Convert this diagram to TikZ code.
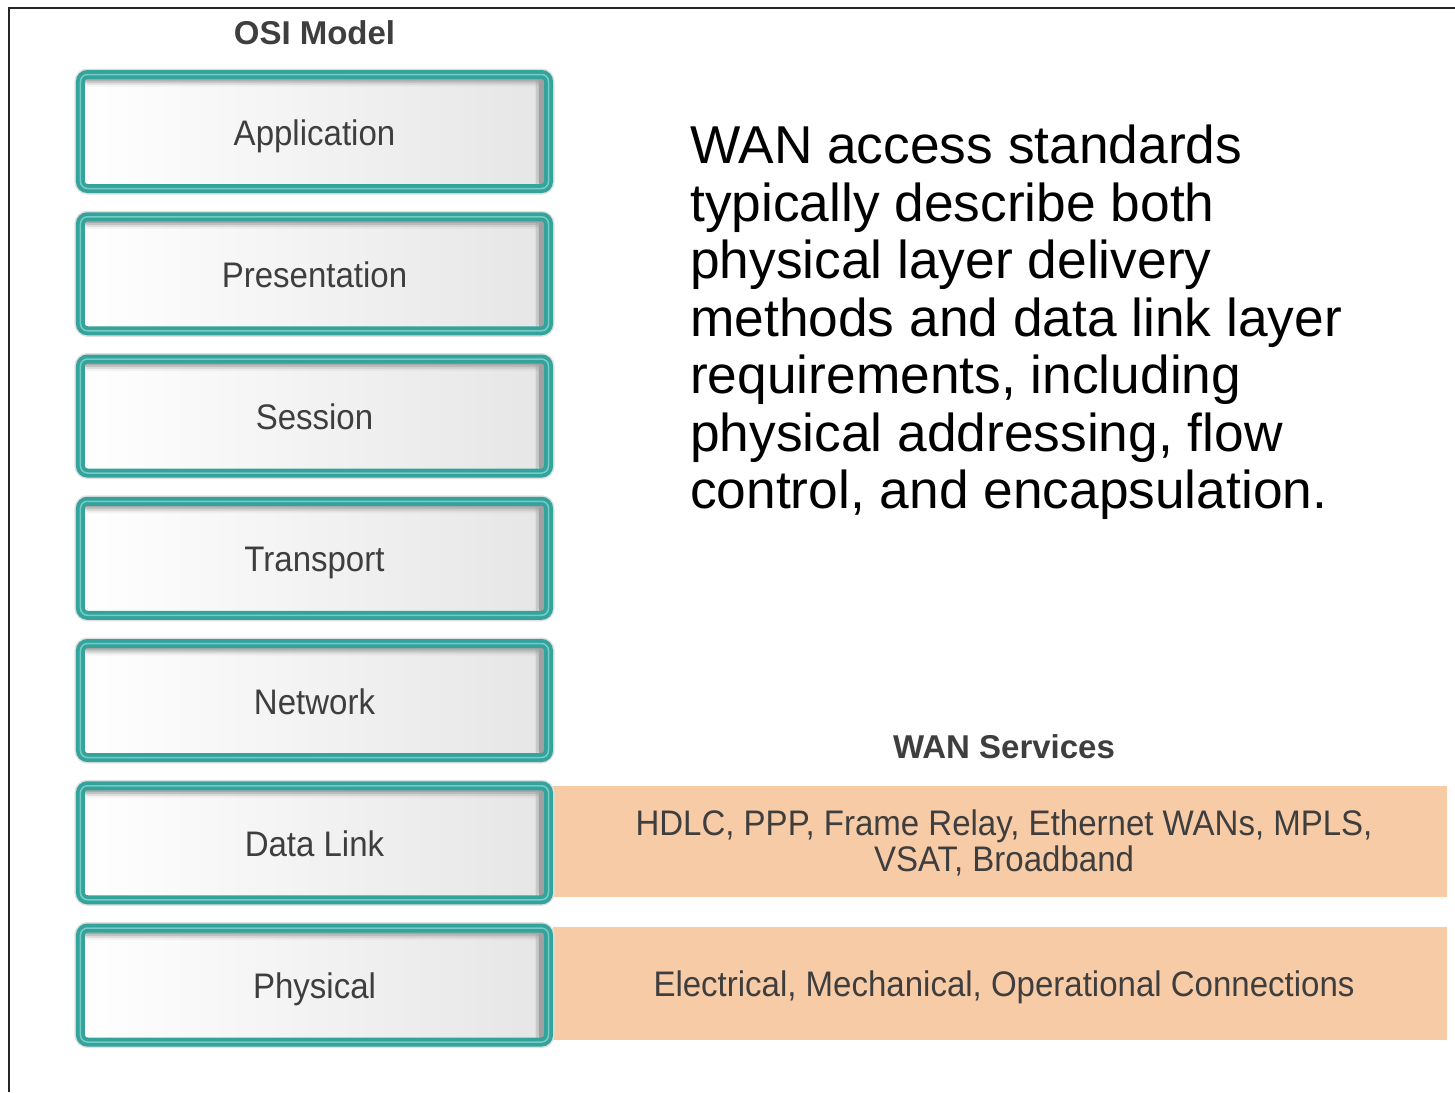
\documentclass[tikz,border=0pt]{standalone}
\usepackage{fontspec}
\setmainfont{Liberation Sans}
\newfontfamily\graylabel[FakeStretch=0.93]{Liberation Sans}
\definecolor{tealring}{HTML}{34A39C}
\definecolor{tealshine}{HTML}{74CCC4}
\definecolor{peach}{HTML}{F8CBA7}
\definecolor{labelgray}{HTML}{3E3E3E}
\definecolor{innershadow}{HTML}{A0A0A0}
\tikzset{
  layerbox/.style={
    minimum width=468bp, minimum height=114bp, inner sep=0pt,
    text height=30bp, text depth=3bp,
    rounded corners=7bp, draw=tealring, line width=9bp,
    left color=white, right color=black!10,
    preaction={draw=black!12, line width=12bp},
    path picture={
      % right inner shadow
      \fill[innershadow] ([xshift=-10bp]path picture bounding box.north east)
        rectangle (path picture bounding box.south east);
      \fill[innershadow, opacity=.4] ([xshift=-13bp]path picture bounding box.north east)
        rectangle ([xshift=-10bp]path picture bounding box.south east);
      % top inner shadow, fading downwards
      \foreach \d/\o in {6/.7, 8/.45, 10/.25, 12/.1}{
        \fill[innershadow, opacity=\o] (path picture bounding box.north west)
          rectangle ([yshift=-\d bp]path picture bounding box.north east);
      }
    },
    postaction={draw=tealshine, line width=1.5bp},
    font=\graylabel\fontsize{35.5bp}{36bp}\selectfont, text=labelgray},
  band/.style={fill=peach, draw=none, inner sep=0pt},
  bandtext/.style={font=\graylabel\fontsize{35.5bp}{36bp}\selectfont, text=labelgray, align=center, inner sep=0pt},
  heading/.style={font=\fontsize{33bp}{36bp}\selectfont\bfseries, text=labelgray, inner sep=0pt},
}
\begin{document}
\begin{tikzpicture}[x=1bp, y=-1bp]
  \useasboundingbox (0,0) rectangle (1455,1092);
  % frame
  \draw[line width=2bp, black!85] (9,1092) -- (9,8) -- (1455,8);

  % WAN service bands
  \node[band, minimum width=894bp, minimum height=111bp] (dlband) at (1000,841.5) {};
  \node[band, minimum width=894bp, minimum height=113bp] (phband) at (1000,983.5) {};

  % OSI layers
  \node[heading] (osi) at (314.5,33) {OSI Model};
  \node[layerbox] (app)  at (314.5,131.5)  {Application};
  \node[layerbox] (pres) at (314.5,273.75) {Presentation};
  \node[layerbox] (sess) at (314.5,416)    {Session};
  \node[layerbox] (tran) at (314.5,558.25) {Transport};
  \node[layerbox] (net)  at (314.5,700.5)  {Network};
  \node[layerbox] (dl)   at (314.5,842.75) {Data Link};
  \node[layerbox] (phy)  at (314.5,985)    {Physical};

  % WAN services
  \node[heading] (wan) at (1004,747) {WAN Services};
  \node[bandtext] (dltext) at (1004,843) {HDLC, PPP, Frame Relay, Ethernet WANs, MPLS,\\VSAT, Broadband};
  \node[bandtext, anchor=base] (phtext) at (1004,996) {Electrical, Mechanical, Operational Connections};

  % description
  \node[anchor=north west, inner sep=0pt, align=left,
        font=\fontsize{53.3bp}{57.5bp}\selectfont] (note) at (690,125)
    {WAN access standards\\
     typically describe both\\
     physical layer delivery\\
     methods and data link layer\\
     requirements, including\\
     physical addressing, flow\\
     control, and encapsulation.};
\end{tikzpicture}
\end{document}
